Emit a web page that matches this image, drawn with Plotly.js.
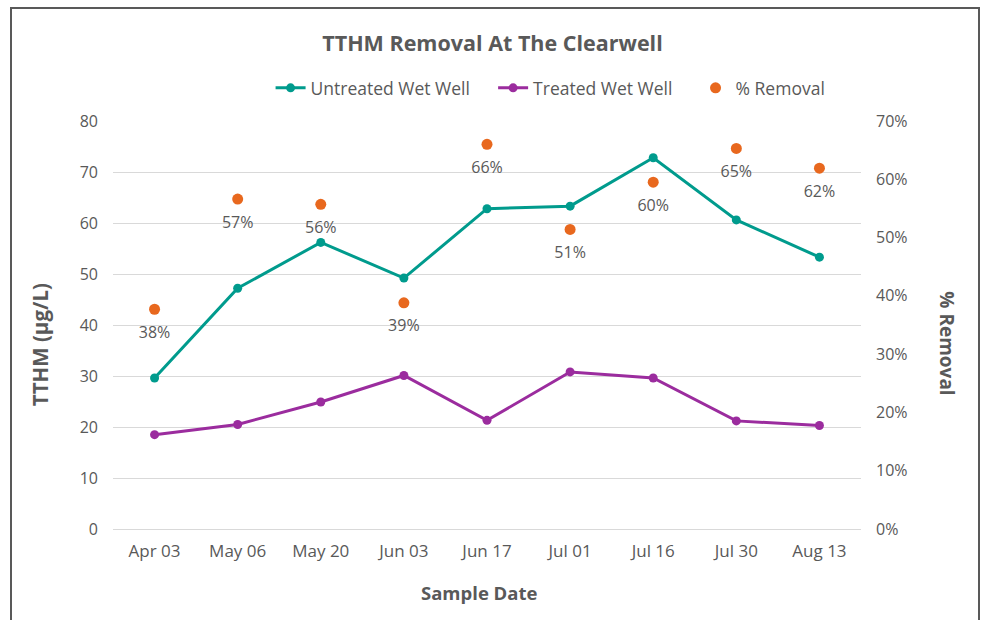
<!DOCTYPE html>
<html><head><meta charset="utf-8">
<script src="https://cdn.plot.ly/plotly-3.0.1.min.js"></script>
<style>
body{margin:0;padding:0;background:#fff;}
#chart{width:985px;height:620px;position:absolute;left:0;top:0;}
#frame{position:absolute;left:10px;top:7px;width:966px;height:640px;border:2px solid #595959;pointer-events:none;}
</style></head>
<body>
<div id="chart"></div>
<div id="frame"></div>
<script>
const dates = ["Apr 03","May 06","May 20","Jun 03","Jun 17","Jul 01","Jul 16","Jul 30","Aug 13"];
const untreated = [29.6, 47.2, 56.2, 49.2, 62.8, 63.3, 72.8, 60.6, 53.3];
const treated = [18.5, 20.5, 24.9, 30.1, 21.3, 30.8, 29.6, 21.2, 20.3];
const removal = [0.377, 0.566, 0.557, 0.388, 0.660, 0.514, 0.595, 0.653, 0.619];
const removalLabels = ["38%","57%","56%","39%","66%","51%","60%","65%","62%"];
const seriesNames = ["Untreated Wet Well", "Treated Wet Well", "% Removal"];
const leftTicks = [0,10,20,30,40,50,60,70,80];
const rightTicks = [0,0.1,0.2,0.3,0.4,0.5,0.6,0.7];

const gray = "#595959";
const font = "'Open Sans', Lato, sans-serif";
const pad = "\u00a0\u00a0\u00a0\u00a0";

const traces = [
  {x: dates, y: untreated, name: seriesNames[0] + pad, type: "scatter", mode: "lines+markers",
   line: {color: "#009B8D", width: 3}, marker: {color: "#009B8D", size: 9}},
  {x: dates, y: treated, name: seriesNames[1] + pad, type: "scatter", mode: "lines+markers",
   line: {color: "#9B2C9E", width: 3}, marker: {color: "#9B2C9E", size: 9}},
  {x: dates, y: removal, name: seriesNames[2], type: "scatter", mode: "markers", yaxis: "y2",
   marker: {color: "#E8681E", size: 11}},
  {x: dates, y: removal, name: "% Removal labels", type: "scatter", mode: "markers+text", yaxis: "y2",
   showlegend: false, marker: {color: "rgba(0,0,0,0)", size: 25}, text: removalLabels,
   textposition: "bottom center", textfont: {color: gray, size: 16, family: font}}
];

const layout = {
  width: 985, height: 620,
  margin: {l: 113, r: 124, t: 121, b: 91},
  paper_bgcolor: "#fff", plot_bgcolor: "#fff",
  font: {family: font, color: gray, size: 16},
  showlegend: true,
  title: {text: "<b>TTHM Removal At The Clearwell</b>", x: 0.5, xanchor: "center", y: 0.93, yanchor: "middle",
          font: {size: 21.5, color: gray, family: font}},
  legend: {orientation: "h", x: 0.585, xanchor: "center", y: 1.081, yanchor: "middle",
           font: {size: 17.5, color: gray, family: font}, itemwidth: 30,
           traceorder: "normal"},
  xaxis: {type: "category", categoryorder: "array", categoryarray: dates,
          showgrid: false, showline: true, linecolor: "#D9D9D9", linewidth: 1,
          ticks: "", tickfont: {size: 17, color: gray}, range: [-0.5, 8.5], zeroline: false,
          ticklabelstandoff: 7, title: {text: ""}},
  yaxis: {range: [0, 80], tickvals: leftTicks, showgrid: true, gridcolor: "#D9D9D9", gridwidth: 1,
          zeroline: false, showline: false, ticks: "", ticklen: 0, tickfont: {size: 16, color: gray},
          ticklabelstandoff: 14},
  yaxis2: {range: [0, 0.7], tickvals: rightTicks, tickformat: ".0%", overlaying: "y", side: "right",
           showgrid: false, zeroline: false, showline: false, ticks: "", tickfont: {size: 16, color: gray},
           ticklabelstandoff: 14},
  annotations: [
    {text: "<b>TTHM (µg/L)</b>", xref: "paper", yref: "paper", x: -0.0976, y: 0.453, textangle: -90,
     showarrow: false, font: {size: 20.5, color: gray, family: font}, xanchor: "center", yanchor: "middle"},
    {text: "<b>% Removal</b>", xref: "paper", yref: "paper", x: 1.115, y: 0.455, textangle: 90,
     showarrow: false, font: {size: 19, color: gray, family: font}, xanchor: "center", yanchor: "middle"},
    {text: "<b>Sample Date</b>", xref: "paper", yref: "paper", x: 0.49, y: -0.155,
     showarrow: false, font: {size: 18.5, color: gray, family: font}, xanchor: "center", yanchor: "middle"}
  ]
};

Plotly.newPlot("chart", traces, layout, {displayModeBar: false, staticPlot: true});
</script>
</body></html>
